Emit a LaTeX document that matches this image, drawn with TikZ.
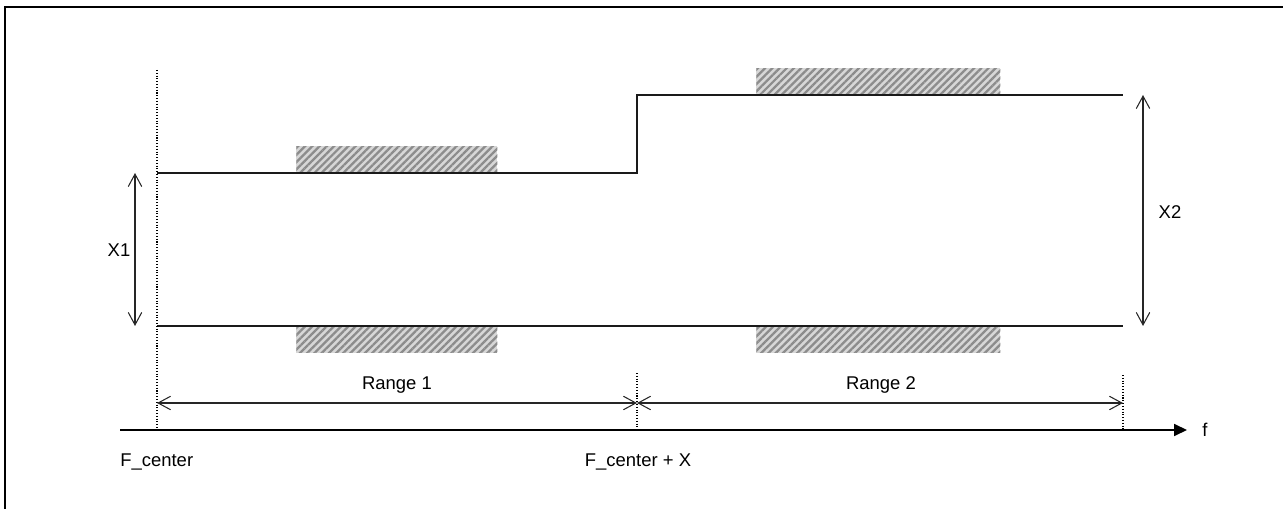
\documentclass[tikz,border=0pt]{standalone}
\usepackage{fontspec}
\setmainfont{Liberation Sans}
\usepackage{tikz}
\usetikzlibrary{arrows.meta, patterns.meta, positioning}
\definecolor{level}{HTML}{1a1a1a}
\definecolor{hatch}{HTML}{8c8c8c}

\begin{document}
\begin{tikzpicture}[
    x=0.02cm, y=-0.02cm,
    lbl/.style={inner sep=0pt, font=\fontsize{10.5}{12}\selectfont},
    hatchbox/.style={draw=none, fill=hatch!35, minimum width=4.02cm, minimum height=0.53cm, inner sep=0pt,
        postaction={pattern={Lines[angle=45, distance=2.9pt, line width=1.3pt]}, pattern color=hatch}},
    lvl/.style={line width=1pt, draw=level},
    guide/.style={densely dotted, line width=0.6pt},
    dim/.style={{Straight Barb[length=2.5mm, width=2.7mm]}-{Straight Barb[length=2.5mm, width=2.7mm]}, line width=0.6pt, draw=black!85},
    axis/.style={-{Triangle[length=2.6mm, width=2.4mm]}, line width=1pt}
]
\useasboundingbox (0,0) rectangle (1283,509);
\draw[line width=1.2pt] (5,520) -- (5,7) -- (1300,7);

\coordinate (lowL) at (157,326);
\coordinate (lowR) at (1123,326);
\coordinate (upL) at (157,173);
\coordinate (stepA) at (637,173);
\coordinate (stepB) at (637,95);
\coordinate (upR) at (1123,95);

\node[hatchbox, anchor=south west] (hatch1) at (296,173) {};
\node[hatchbox, anchor=north west] (hatch2) at (296,326) {};
\node[hatchbox, anchor=south west, minimum width=4.88cm] (hatch3) at (756,95) {};
\node[hatchbox, anchor=north west, minimum width=4.88cm] (hatch4) at (756,326) {};

\draw[lvl] (upL) -- (stepA) -- (stepB) -- (upR);
\draw[lvl] (lowL) -- (lowR);

\coordinate (axisL) at (120,430);
\coordinate (axisR) at (1187,430);
\coordinate (g1top) at (157,70);
\coordinate (g1) at (157,430);
\coordinate (g2top) at (637,373);
\coordinate (g2) at (637,430);
\coordinate (g3top) at (1123,375);
\coordinate (g3) at (1123,430);
\draw[guide] (g1top) -- (g1);
\draw[guide] (g2top) -- (g2);
\draw[guide] (g3top) -- (g3);

\coordinate (r1) at (157,403);
\coordinate (r2) at (637,403);
\coordinate (r3) at (1123,403);
\draw[dim] (r1) -- (r2);
\draw[dim] (r2) -- (r3);
\node[lbl] (range1) at (397,385) {Range 1};
\node[lbl] (range2) at (881,385) {Range 2};

\coordinate (x1top) at (135,173);
\coordinate (x1bot) at (135,326);
\coordinate (x2top) at (1143,95);
\coordinate (x2bot) at (1143,326);
\draw[dim] (x1top) -- (x1bot);
\draw[dim] (x2top) -- (x2bot);
\node[lbl] (xone) at (119,250) {X1};
\node[lbl] (xtwo) at (1170,212) {X2};

\draw[axis] (axisL) -- (axisR);
\node[lbl, right=3mm of axisR] (freq) {f};
\node[lbl, anchor=west] (fc) at (120,462) {F\_center};
\node[lbl] (fcx) at (638,462) {F\_center + X};
\end{tikzpicture}
\end{document}
